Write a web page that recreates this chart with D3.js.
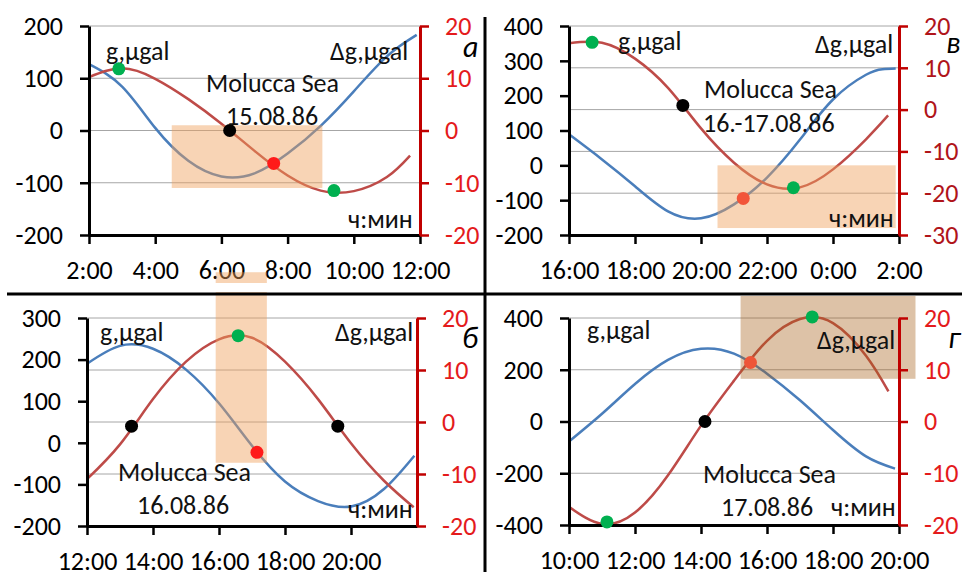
<!DOCTYPE html>
<meta charset="utf-8">
<title>Molucca Sea tides</title>
<style>
body { margin: 0; background: #fff; }
text { font-family: Calibri, Carlito, "Liberation Sans", sans-serif; }
</style>
<div id="chart"></div>
<script src="https://d3js.org/d3.v7.min.js"></script>
<script>

// time in hours (values past 24 continue into the next day)
// blue = g (left axis), red = delta g (right axis)

// panel a : 15.08.86
var p1Blue = [[2,127],[3,84],[4,5],[5,-58],[6,-88],[7,-82],[8,-44],[9,9],[10,75],[11,142],[11.9,183]];
var p1Red = [[2,10.2],[3,11.9],[4,9.9],[5,6],[6,1.3],[7,-3.9],[8,-8.6],[9,-11.5],[10,-11.6],[11,-8.9],[11.7,-4.8]];
var p1Green = [[2.9,11.8],[9.4,-11.5]];
var p1Black = [[6.25,0]];
var p1RedDot = [[7.58,-63]];
var p1Box = [4.5, 9.05, 10, -110];   // x from, x to, left value top, left value bottom

// panel в : 16.-17.08.86
var p2Blue = [[16,89],[17,17],[18,-60],[19,-132],[20,-152],[21,-112],[22,-35],[23,74],[24,189],[25,260],[25.5,276],[25.9,278]];
var p2Red = [[16,15.9],[17,16],[18,12.2],[19,5.2],[20,-4.5],[21,-12.7],[22,-17.9],[23,-18.6],[24,-14.3],[25,-7.1],[25.67,-1.4]];
var p2Green = [[16.7,16.1],[22.8,-18.7]];
var p2Black = [[19.45,1]];
var p2RedDot = [[21.28,-95]];
var p2Box = [20.5, 25.9, 0, -180];

// panel б : 16.08.86
var p3Blue = [[12,190],[13,233],[14,226],[15,176],[16,95],[17,-7],[18,-93],[19,-140],[20,-153],[21,-111],[21.92,-31]];
var p3Red = [[12,-11],[13,-4.3],[14,4.4],[15,11.6],[16,15.9],[17,16.2],[18,11.6],[19,4.4],[20,-4.1],[21,-11.3],[21.9,-16.4]];
var p3Green = [[16.58,16.6]];
var p3Black = [[13.35,-0.8],[19.6,-0.8]];
var p3RedDot = [[17.15,-23]];
var p3Box = [15.9, 17.45, 410, -48];

// panel г : 17.08.86
var p4Blue = [[10,-77],[11,30],[12,145],[13,238],[14,281],[15,262],[16,185],[17,82],[18,-33],[19,-135],[19.88,-182]];
var p4Red = [[10,-16.5],[11,-19.8],[12,-17.6],[13,-10.4],[14,-0.8],[15,7.9],[16,15.6],[17,19.8],[18,19],[19,12.7],[19.68,5.8]];
var p4Green = [[11.15,-19.4],[17.37,20.2]];
var p4Black = [[14.12,0]];
var p4RedDot = [[15.5,228]];
var p4Box = [15.2, 20.5, 485, 165];

var xTicks1 = [2,4,6,8,10,12], xTicks2 = [16,18,20,22,24,26], xTicks3 = [12,14,16,18,20], xTicks4 = [10,12,14,16,18,20];
var leftTicks1 = [-200,-100,0,100,200], leftTicks2 = [-200,-100,0,100,200,300,400];
var leftTicks3 = [-200,-100,0,100,200,300], leftTicks4 = [-400,-200,0,200,400];
var rightTicks1 = [-20,-10,0,10,20], rightTicks2 = [-30,-20,-10,0,10,20];

var panels = [
  {pos: [89, 420, 26, 235], xd: [2,12], ld: [-200,200], rd: [-20,20], xt: xTicks1, lt: leftTicks1, rt: rightTicks1,
   blue: p1Blue, red: p1Red, green: p1Green, black: p1Black, redDot: p1RedDot, box: p1Box,
   boxFill: "#f0a05a", boxOp: 0.45, dotRed: "#ff1a1a", rLabel: "#e41a1c",
   texts: [["g,μgal",106,60],["Δg,μgal",330,60],["Molucca Sea",206,92],["15.08.86",226,125],["ч:мин",348,228]], letter: ["а",463,57]},
  {pos: [569, 899, 26, 235], xd: [16,26], ld: [-200,400], rd: [-30,20], xt: xTicks2, lt: leftTicks2, rt: rightTicks2,
   blue: p2Blue, red: p2Red, green: p2Green, black: p2Black, redDot: p2RedDot, box: p2Box,
   boxFill: "#f0a05a", boxOp: 0.45, dotRed: "#f2553a", rLabel: "#b0141a",
   texts: [["g,μgal",618,50],["Δg,μgal",815,53],["Molucca Sea",704,98],["16.-17.08.86",703,132],["ч:мин",829,227]], letter: ["в",946,53]},
  {pos: [87, 417, 318, 526], xd: [12,22], ld: [-200,300], rd: [-20,20], xt: xTicks3, lt: leftTicks3, rt: rightTicks1,
   blue: p3Blue, red: p3Red, green: p3Green, black: p3Black, redDot: p3RedDot, box: p3Box,
   boxFill: "#f0a05a", boxOp: 0.45, dotRed: "#ff1a1a", rLabel: "#e41a1c",
   texts: [["g,μgal",100,341],["Δg,μgal",335,341],["Molucca Sea",118,481],["16.08.86",137,514],["ч:мин",348,518]], letter: ["б",462,348]},
  {pos: [569, 899, 318, 525], xd: [10,20], ld: [-400,400], rd: [-20,20], xt: xTicks4, lt: leftTicks4, rt: rightTicks1,
   blue: p4Blue, red: p4Red, green: p4Green, black: p4Black, redDot: p4RedDot, box: p4Box,
   boxFill: "#a55f17", boxOp: 0.38, dotRed: "#ee5538", rLabel: "#e41a1c",
   texts: [["g,μgal",587,339],["Δg,μgal",817,349],["Molucca Sea",703,483],["17.08.86",721,516],["ч:мин",831,516]], letter: ["г",948,348]}
];

var svg = d3.select("#chart").append("svg")
  .attr("width", 962)
  .attr("height", 572);

function fmtHour(h) { return (h % 24) + ":00"; }
function minus(d) { return d < 0 ? "-" + Math.abs(d) : d; }

panels.forEach(function(p, i) {
  var x = d3.scaleLinear().domain(p.xd).range([p.pos[0], p.pos[1]]);
  var yL = d3.scaleLinear().domain(p.ld).range([p.pos[3], p.pos[2]]);
  var yR = d3.scaleLinear().domain(p.rd).range([p.pos[3], p.pos[2]]);
  var g = svg.append("g");

  // gridlines follow the right axis ticks
  g.selectAll(".grid").data(p.rt).enter().append("line")
    .attr("x1", p.pos[0]).attr("x2", p.pos[1])
    .attr("y1", function(d) { return yR(d); }).attr("y2", function(d) { return yR(d); })
    .attr("stroke", "#a6a6a6").attr("stroke-width", 1);

  var lineL = d3.line().curve(d3.curveNatural)
    .x(function(d) { return x(d[0]); }).y(function(d) { return yL(d[1]); });
  var lineR = d3.line().curve(d3.curveNatural)
    .x(function(d) { return x(d[0]); }).y(function(d) { return yR(d[1]); });

  g.append("path").attr("d", lineL(p.blue))
    .attr("fill", "none").attr("stroke", "#4a7ebb").attr("stroke-width", 2.5);
  g.append("path").attr("d", lineR(p.red))
    .attr("fill", "none").attr("stroke", "#be4b48").attr("stroke-width", 2.5);

  // highlighted window
  g.append("rect")
    .attr("x", x(p.box[0])).attr("width", x(p.box[1]) - x(p.box[0]))
    .attr("y", yL(p.box[2])).attr("height", yL(p.box[3]) - yL(p.box[2]))
    .attr("fill", p.boxFill).attr("opacity", p.boxOp);
  if (i == 2) {
    // the window of panel б pokes up behind the labels of panel a
    g.append("rect")
      .attr("x", x(p.box[0]) - 1).attr("width", x(p.box[1]) - x(p.box[0]) + 2)
      .attr("y", 283).attr("height", 9)
      .attr("fill", "#fff");
  }

  // axes
  var ax = g.append("g").attr("transform", "translate(0," + p.pos[3] + ")")
    .call(d3.axisBottom(x).tickValues(p.xt).tickFormat(fmtHour).tickSize(9).tickSizeOuter(0).tickPadding(17));
  var al = g.append("g").attr("transform", "translate(" + p.pos[0] + ",0)")
    .call(d3.axisLeft(yL).tickValues(p.lt).tickFormat(minus).tickSize(9).tickSizeOuter(0).tickPadding(17));
  var ar = g.append("g").attr("transform", "translate(" + p.pos[1] + ",0)")
    .call(d3.axisRight(yR).tickValues(p.rt).tickFormat(minus).tickSize(9).tickSizeOuter(0).tickPadding(16));

  [ax, al].forEach(function(a) {
    a.select(".domain").attr("stroke", "#000").attr("stroke-width", 3);
    a.selectAll(".tick line").attr("stroke", "#000").attr("stroke-width", 2.5);
    a.selectAll("text").attr("fill", "#000").style("font-size", "26px").attr("font-family", null);
  });
  ar.select(".domain").attr("stroke", "#c00000").attr("stroke-width", 3);
  ar.selectAll(".tick line").attr("stroke", "#c00000").attr("stroke-width", 2.5);
  ar.selectAll("text").attr("fill", p.rLabel).style("font-size", "26px").attr("font-family", null);

  // marker dots
  g.selectAll(".green").data(p.green).enter().append("circle")
    .attr("cx", function(d) { return x(d[0]); }).attr("cy", function(d) { return yR(d[1]); })
    .attr("r", 6.5).attr("fill", "#00b050");
  g.selectAll(".black").data(p.black).enter().append("circle")
    .attr("cx", function(d) { return x(d[0]); }).attr("cy", function(d) { return yR(d[1]); })
    .attr("r", 6.5).attr("fill", "#000");
  g.selectAll(".reddot").data(p.redDot).enter().append("circle")
    .attr("cx", function(d) { return x(d[0]); }).attr("cy", function(d) { return yL(d[1]); })
    .attr("r", 6.5).attr("fill", p.dotRed);

  // labels
  g.selectAll(".lbl").data(p.texts).enter().append("text")
    .attr("x", function(d) { return d[1]; }).attr("y", function(d) { return d[2]; })
    .style("font-size", "26px").attr("fill", "#111")
    .text(function(d) { return d[0]; });
  g.append("text")
    .attr("x", p.letter[1]).attr("y", p.letter[2])
    .style("font-size", "30px").style("font-style", "italic")
    .text(p.letter[0]);
});

// panel dividers
svg.append("line").attr("x1", 7).attr("x2", 962).attr("y1", 294).attr("y2", 294)
  .attr("stroke", "#000").attr("stroke-width", 3);
svg.append("line").attr("x1", 485).attr("x2", 485).attr("y1", 17).attr("y2", 572)
  .attr("stroke", "#000").attr("stroke-width", 3);

</script>
